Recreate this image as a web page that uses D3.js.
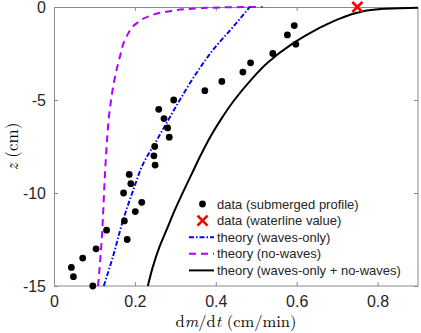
<!DOCTYPE html>
<html>
<head>
<meta charset="utf-8">
<script src="https://cdn.jsdelivr.net/npm/d3@7"></script>
<style>
  body { margin: 0; background: #fff; }
  svg { display: block; font-family: "Liberation Sans", Arial, sans-serif; }
</style>
</head>
<body>
<div id="chart"></div>
<script>
// measured profile: depth z (cm) and melt rate dm/dt (cm/min)
let dataZ = [-1, -1.5, -2, -2.5, -3, -3.5, -4, -4.5, -5, -5.5, -6, -6.5, -7, -7.5, -8,
  -8.5, -9, -9.5, -10, -10.5, -11, -11.5, -12, -12.5, -13, -13.5, -14, -14.5, -15];
let dataRate = [0.594, 0.577, 0.598, 0.541, 0.486, 0.467, 0.415, 0.373, 0.296, 0.259, 0.272, 0.281, 0.285, 0.249, 0.247,
  0.250, 0.186, 0.190, 0.172, 0.217, 0.201, 0.174, 0.130, 0.181, 0.104, 0.071, 0.043, 0.048, 0.096];

// waterline value
let waterZ = 0;
let waterRate = 0.75;

// theory curves
let wavesZ = [-15, -13.4, -11.45, -9.84, -8.23, -7.5, -6.25, -5, -3.56, -2.31, -1.06, 0];
let wavesRate = [0.123, 0.146, 0.171, 0.196, 0.225, 0.245, 0.278, 0.311, 0.352, 0.393, 0.443, 0.484];

let noWavesZ = [-15, -12.5, -9, -7.5, -5.5, -3.75, -2.67, -1.6, -0.88, -0.48, -0.25, -0.07, -0.01, 0];
let noWavesRate = [0.109, 0.118, 0.126, 0.130, 0.138, 0.151, 0.163, 0.179, 0.204, 0.237, 0.278, 0.36, 0.44, 0.516];

let sumZ = [-15, -14, -13, -12, -11, -10, -9, -8, -7, -6, -5, -4, -3, -2, -1.5, -1, -0.6, -0.3, -0.15, -0.1, -0.07, -0.045];
let sumRate = [0.232, 0.244, 0.259, 0.278, 0.297, 0.318, 0.340, 0.362, 0.386, 0.414, 0.446, 0.484, 0.528, 0.588, 0.625, 0.668, 0.710, 0.752, 0.790, 0.820, 0.855, 0.900];

let xTicks = [0, 0.2, 0.4, 0.6, 0.8];
let yTicks = [0, -5, -10, -15];

let legendLabels = ["data (submerged profile)", "data (waterline value)", "theory (waves-only)",
  "theory (no-waves)", "theory (waves-only + no-waves)"];

let svgWidth = 421;
let svgHeight = 333;
let margin = { top: 7, right: 3, bottom: 47, left: 54 };
let width = svgWidth - margin.left - margin.right;
let height = svgHeight - margin.top - margin.bottom;

let axisColor = "#8a8a8a";
let textColor = "#262626";

let svg = d3.select("#chart")
  .append("svg")
  .attr("width", svgWidth)
  .attr("height", svgHeight);

let chartGroup = svg.append("g")
  .attr("transform", `translate(${margin.left}, ${margin.top})`);

let x = d3.scaleLinear().domain([0, 0.9]).range([0, width]);
let y = d3.scaleLinear().domain([-15, 0]).range([height, 0]);

let fmt = d => String(d);

// box + ticks on all four sides
function styleAxis(g, showLabels) {
  g.select(".domain").remove();
  g.selectAll(".tick line").attr("stroke", axisColor);
  g.selectAll(".tick text")
    .attr("fill", textColor)
    .attr("font-size", 16)
    .style("display", showLabels ? null : "none");
}

chartGroup.append("g")
  .attr("transform", `translate(0, ${height})`)
  .call(d3.axisBottom(x).tickValues(xTicks).tickSizeInner(-4).tickSizeOuter(0).tickPadding(10).tickFormat(fmt))
  .call(g => styleAxis(g, true));

chartGroup.append("g")
  .call(d3.axisTop(x).tickValues(xTicks).tickSizeInner(-4).tickSizeOuter(0))
  .call(g => styleAxis(g, false));

chartGroup.append("g")
  .call(d3.axisLeft(y).tickValues(yTicks).tickSizeInner(-4).tickSizeOuter(0).tickPadding(8).tickFormat(fmt))
  .call(g => styleAxis(g, true));

chartGroup.append("g")
  .attr("transform", `translate(${width}, 0)`)
  .call(d3.axisRight(y).tickValues(yTicks).tickSizeInner(-4).tickSizeOuter(0))
  .call(g => styleAxis(g, false));

chartGroup.append("rect")
  .attr("x", 0.5)
  .attr("y", 0.5)
  .attr("width", width - 0.5)
  .attr("height", height - 0.5)
  .attr("fill", "none")
  .attr("stroke", axisColor)
  .attr("stroke-width", 1);

let plot = chartGroup.append("g");

let line = d3.line()
  .x(d => x(d[1]))
  .y(d => y(d[0]))
  .curve(d3.curveMonotoneY);

let curves = [
  { z: noWavesZ, r: noWavesRate, color: "#b000ff", dash: "7,5", w: 2 },
  { z: wavesZ, r: wavesRate, color: "#0000ff", dash: "5,2,1.5,2", w: 1.9 },
  { z: sumZ, r: sumRate, color: "#000000", dash: null, w: 2 }
];

curves.forEach(c => {
  plot.append("path")
    .datum(d3.zip(c.z, c.r))
    .attr("d", line)
    .attr("fill", "none")
    .attr("stroke", c.color)
    .attr("stroke-width", c.w)
    .attr("stroke-dasharray", c.dash);
});

plot.selectAll("circle")
  .data(d3.zip(dataZ, dataRate))
  .enter()
  .append("circle")
  .attr("cx", d => x(d[1]))
  .attr("cy", d => y(d[0]))
  .attr("r", 3.4)
  .attr("fill", "#000");

function drawCross(g, cx, cy, s) {
  g.append("path")
    .attr("d", `M${cx - s},${cy - s}L${cx + s},${cy + s}M${cx - s},${cy + s}L${cx + s},${cy - s}`)
    .attr("stroke", "#ff0000")
    .attr("stroke-width", 2.6)
    .attr("fill", "none");
}

drawCross(plot, x(waterRate), y(waterZ), 5);

// legend (no border)
let legend = chartGroup.append("g")
  .attr("transform", `translate(${189 - margin.left}, ${204 - margin.top})`);
let rowH = 16.6;

legendLabels.forEach((label, i) => {
  let ly = i * rowH;
  if (i === 0) {
    legend.append("circle").attr("cx", 13.5).attr("cy", ly).attr("r", 3.4).attr("fill", "#000");
  } else if (i === 1) {
    drawCross(legend, 13.5, ly, 5);
  } else {
    let c = curves[[1, 0, 2][i - 2]];
    legend.append("line")
      .attr("x1", 0).attr("x2", 25)
      .attr("y1", ly).attr("y2", ly)
      .attr("stroke", c.color)
      .attr("stroke-width", c.w)
      .attr("stroke-dasharray", c.dash);
  }
  legend.append("text")
    .attr("x", 28)
    .attr("y", ly)
    .attr("dy", "0.35em")
    .attr("font-size", 13)
    .attr("fill", textColor)
    .text(label);
});

// axis labels (LaTeX style)
let xLabel = svg.append("text")
  .attr("x", margin.left + width / 2)
  .attr("y", 327)
  .attr("text-anchor", "middle")
  .attr("font-family", "'Latin Modern Roman', 'DejaVu Serif', 'Liberation Serif', serif")
  .attr("font-size", 16.5)
  .attr("fill", "#000");
xLabel.append("tspan").text("d");
xLabel.append("tspan").attr("font-style", "italic").text("m");
xLabel.append("tspan").text("/d");
xLabel.append("tspan").attr("font-style", "italic").text("t");
xLabel.append("tspan").text(" (cm/min)");

let yLabel = svg.append("text")
  .attr("transform", `translate(18, ${margin.top + height / 2}) rotate(-90)`)
  .attr("text-anchor", "middle")
  .attr("font-family", "'Latin Modern Roman', 'Liberation Serif', serif")
  .attr("font-size", 17)
  .attr("fill", "#000");
yLabel.append("tspan").attr("font-style", "italic").text("z");
yLabel.append("tspan").text(" (cm)");
</script>
</body>
</html>
